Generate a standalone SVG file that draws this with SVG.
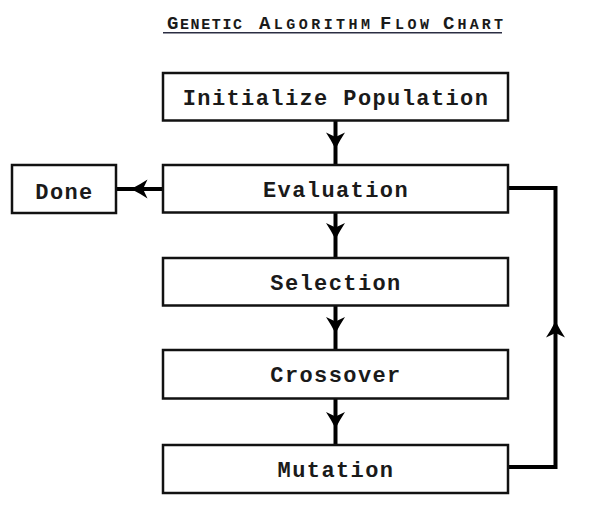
<svg xmlns="http://www.w3.org/2000/svg" xmlns:xlink="http://www.w3.org/1999/xlink" width="615" height="517" viewBox="0 0 615 517">
<style>
.box{fill:#fff;stroke:#111;stroke-width:2.5}
.lbl{font-family:"Liberation Mono","Courier New",monospace;font-size:22px;font-weight:bold;letter-spacing:1.4px;fill:#1a1a1a;text-anchor:middle}
.conn{fill:none;stroke:#000;stroke-width:4}
.ttl{font-family:"Liberation Mono","Courier New",monospace;font-weight:bold;fill:#1a1a1a}
.big{font-size:19px}
.sm{font-size:15px}
</style>
<defs>
<path id="ah" d="M0,0 Q-9,-4.5 -16.5,-9.5 L-12,0 L-16.5,9.5 Q-9,4.5 0,0 Z" fill="#000"/>
</defs>
<rect width="615" height="517" fill="#fff"/>
<g id="title">
<text class="ttl" x="167" y="28.5" textLength="75" lengthAdjust="spacing"><tspan class="big">G</tspan><tspan class="sm">ENETIC</tspan></text>
<text class="ttl" x="259" y="28.5" textLength="111" lengthAdjust="spacing"><tspan class="big">A</tspan><tspan class="sm">LGORITHM</tspan></text>
<text class="ttl" x="380" y="28.5" textLength="49" lengthAdjust="spacing"><tspan class="big">F</tspan><tspan class="sm">LOW</tspan></text>
<text class="ttl" x="443" y="28.5" textLength="60" lengthAdjust="spacing"><tspan class="big">C</tspan><tspan class="sm">HART</tspan></text>
<line x1="163" y1="32.8" x2="502" y2="32.8" stroke="#2b2d42" stroke-width="1.5"/>
</g>
<g id="connectors">
<line class="conn" x1="335.5" y1="120" x2="335.5" y2="165"/>
<line class="conn" x1="335.5" y1="212" x2="335.5" y2="258"/>
<line class="conn" x1="335.5" y1="305" x2="335.5" y2="350"/>
<line class="conn" x1="335.5" y1="398" x2="335.5" y2="445"/>
<line class="conn" x1="163" y1="189" x2="116" y2="189"/>
<polyline class="conn" points="508,467 555.5,467 555.5,188 508,188"/>
<use xlink:href="#ah" href="#ah" transform="translate(335.5,149) rotate(90)"/>
<use xlink:href="#ah" href="#ah" transform="translate(335.5,239.5) rotate(90)"/>
<use xlink:href="#ah" href="#ah" transform="translate(335.5,333.5) rotate(90)"/>
<use xlink:href="#ah" href="#ah" transform="translate(335.5,428.5) rotate(90)"/>
<use xlink:href="#ah" href="#ah" transform="translate(131,189) rotate(180)"/>
<use xlink:href="#ah" href="#ah" transform="translate(555.5,321) rotate(-90)"/>
</g>
<g id="init"><rect class="box" x="163" y="73" width="345" height="47.5"/><text class="lbl" x="336" y="104.5">Initialize Population</text></g>
<g id="eval"><rect class="box" x="163" y="165" width="345" height="47.5"/><text class="lbl" x="336" y="196.8">Evaluation</text></g>
<g id="done"><rect class="box" x="12" y="165" width="104" height="48"/><text class="lbl" x="64.5" y="199">Done</text></g>
<g id="sel"><rect class="box" x="163" y="258" width="345" height="47.5"/><text class="lbl" x="336" y="289.8">Selection</text></g>
<g id="cross"><rect class="box" x="163" y="350" width="345" height="48.5"/><text class="lbl" x="336" y="382.3">Crossover</text></g>
<g id="mut"><rect class="box" x="163" y="445" width="345" height="48"/><text class="lbl" x="336" y="477">Mutation</text></g>
</svg>
